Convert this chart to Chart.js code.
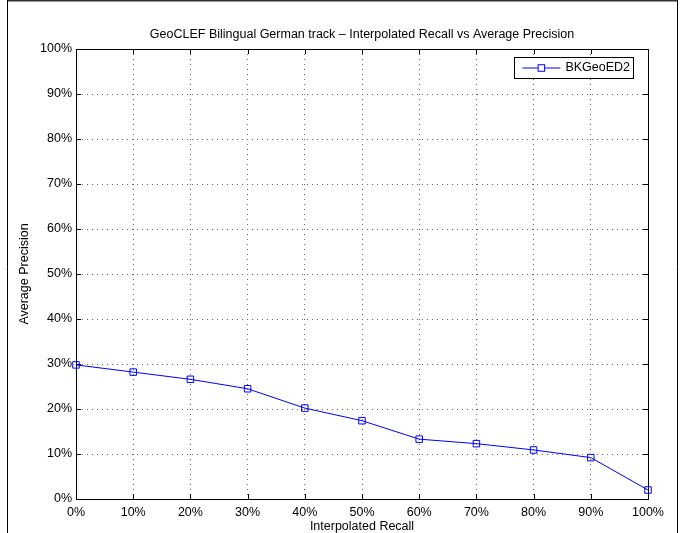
<!DOCTYPE html>
<html><head><meta charset="utf-8">
<script src="https://cdn.jsdelivr.net/npm/chart.js@4/dist/chart.umd.min.js"></script>
<style>html,body{margin:0;padding:0;background:#fff;overflow:hidden}canvas{display:block}</style>
</head><body>
<canvas id="c" width="682" height="533"></canvas>
<script>
const recallLevels = [0, 10, 20, 30, 40, 50, 60, 70, 80, 90, 100];
const precisionBKGeoED2 = [29.8, 28.2, 26.6, 24.5, 20.2, 17.4, 13.3, 12.3, 10.9, 9.2, 2.0];
const seriesName = 'BKGeoED2';
const chartTitle = 'GeoCLEF Bilingual German track \u2013 Interpolated Recall vs Average Precision';
const xTitle = 'Interpolated Recall';
const yTitle = 'Average Precision';
const axisMin = 0, axisMax = 100, axisStep = 10;

const FONT = "'Liberation Sans', Arial, Helvetica, sans-serif";
const FS = 12.5;
const BLUE = '#0000ff';
const MARK_R = 4.6;

const matlabPlugin = {
  id: 'matlab',
  beforeDraw(chart) {
    const ctx = chart.ctx;
    ctx.save();
    ctx.fillStyle = '#fff';
    ctx.fillRect(0, 0, chart.width, chart.height);
    ctx.restore();
  },
  beforeDatasetsDraw(chart) {
    const {ctx, chartArea: a, scales: {x, y}} = chart;
    ctx.save();
    ctx.strokeStyle = '#000';
    ctx.lineWidth = 1;
    ctx.beginPath();
    ctx.rect(Math.round(a.left) + 0.5, Math.round(a.top) + 0.5, Math.round(a.right - a.left), Math.round(a.bottom - a.top));
    ctx.stroke();
    const tl = 5;
    ctx.beginPath();
    x.ticks.forEach(t => {
      const px = Math.round(x.getPixelForValue(t.value)) + 0.5;
      ctx.moveTo(px, a.bottom); ctx.lineTo(px, a.bottom - tl);
      ctx.moveTo(px, a.top); ctx.lineTo(px, a.top + tl);
    });
    y.ticks.forEach(t => {
      const py = Math.round(y.getPixelForValue(t.value)) + 0.5;
      ctx.moveTo(a.left, py); ctx.lineTo(a.left + tl, py);
      ctx.moveTo(a.right, py); ctx.lineTo(a.right - tl, py);
    });
    ctx.stroke();
    ctx.restore();
  },
  afterDraw(chart) {
    const {ctx, chartArea: a} = chart;
    ctx.save();
    // outer figure frame
    ctx.fillStyle = '#333';
    ctx.fillRect(7, 0, 671, 1.5);
    ctx.strokeStyle = '#000';
    ctx.lineWidth = 1;
    ctx.beginPath();
    ctx.moveTo(7.5, 0); ctx.lineTo(7.5, chart.height);
    ctx.moveTo(677.5, 0); ctx.lineTo(677.5, chart.height);
    ctx.stroke();
    // legend
    const ds = chart.data.datasets[0];
    ctx.font = FS + 'px ' + FONT;
    const tw = ctx.measureText(ds.label).width;
    const lineLen = 38, padL = 8, gap = 5, padR = 3;
    const w = padL + lineLen + gap + tw + padR;
    const h = 21;
    const right = Math.round(a.right) - 15;
    const left = right - w;
    const top = Math.round(a.top) + 8;
    ctx.fillStyle = '#fff';
    ctx.fillRect(left, top, w, h);
    ctx.strokeStyle = '#000';
    ctx.strokeRect(Math.round(left) + 0.5, top + 0.5, Math.round(w), h);
    const cy = top + h / 2 + 0.5;
    ctx.strokeStyle = ds.borderColor;
    ctx.beginPath();
    ctx.moveTo(left + padL, cy); ctx.lineTo(left + padL + lineLen, cy);
    ctx.stroke();
    const s = MARK_R * Math.SQRT1_2;
    const mx = left + padL + lineLen / 2;
    ctx.fillStyle = '#fff';
    ctx.fillRect(mx - s, cy - s, 2 * s, 2 * s);
    ctx.strokeRect(mx - s, cy - s, 2 * s, 2 * s);
    ctx.fillStyle = '#000';
    ctx.textBaseline = 'middle';
    ctx.textAlign = 'left';
    ctx.fillText(ds.label, left + padL + lineLen + gap, cy);
    ctx.restore();
  }
};

new Chart(document.getElementById('c'), {
  type: 'line',
  data: {
    labels: recallLevels,
    datasets: [{
      label: seriesName,
      data: recallLevels.map((r, i) => ({x: r, y: precisionBKGeoED2[i]})),
      borderColor: BLUE,
      backgroundColor: 'rgba(0,0,0,0)',
      borderWidth: 1,
      pointStyle: 'rect',
      pointRadius: MARK_R,
      pointBorderColor: BLUE,
      pointBackgroundColor: 'rgba(0,0,0,0)',
      pointBorderWidth: 1,
      tension: 0,
      clip: false
    }]
  },
  options: {
    responsive: false,
    devicePixelRatio: 1,
    animation: false,
    layout: {padding: {top: 0, left: 0, right: 34, bottom: 0}},
    plugins: {
      legend: {display: false},
      tooltip: {enabled: false},
      title: {
        display: true,
        text: chartTitle,
        color: '#000',
        fullSize: false,
        font: {family: FONT, size: FS, weight: 'normal'},
        padding: {top: 26.6, bottom: 7.4}
      }
    },
    scales: {
      x: {
        type: 'linear',
        min: axisMin, max: axisMax,
        afterFit(scale) { scale.height = 34; },
        ticks: {stepSize: axisStep, color: '#000', padding: 6, font: {family: FONT, size: FS}, callback: v => v + '%', maxRotation: 0},
        grid: {color: '#666', lineWidth: 1, drawTicks: false, tickLength: 0},
        border: {display: true, color: '#000', width: 1, dash: [1, 4]},
        title: {display: true, text: xTitle, color: '#000', font: {family: FONT, size: FS}, padding: {top: 0, bottom: -1.5}}
      },
      y: {
        type: 'linear',
        min: axisMin, max: axisMax,
        afterFit(scale) { scale.width = 76; },
        ticks: {stepSize: axisStep, color: '#000', padding: 4, font: {family: FONT, size: FS}, callback: v => v + '%'},
        grid: {color: '#666', lineWidth: 1, drawTicks: false, tickLength: 0},
        border: {display: true, color: '#000', width: 1, dash: [1, 4]},
        title: {display: true, text: yTitle, color: '#000', font: {family: FONT, size: FS}, padding: {top: 17.5, bottom: 0}}
      }
    }
  },
  plugins: [matlabPlugin]
});
</script>
</body></html>
